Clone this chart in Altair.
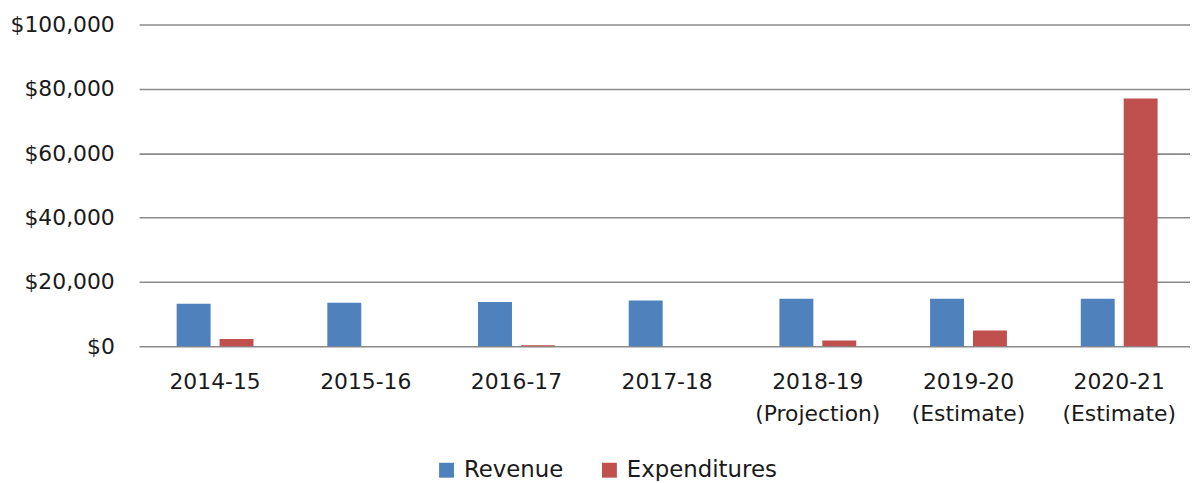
import altair as alt
import pandas as pd

categories = ["2014-15", "2015-16", "2016-17", "2017-18",
              "2018-19|(Projection)", "2019-20|(Estimate)", "2020-21|(Estimate)"]
series = ["Revenue", "Expenditures"]
revenue = [13200, 13500, 13750, 14200, 14800, 14800, 14800]
expenditures = [2300, 0, 300, 0, 1800, 4900, 77000]
colors = ["#4F81BD", "#C0504D"]
y_ticks = [0, 20000, 40000, 60000, 80000, 100000]

rows = []
for c, r, e in zip(categories, revenue, expenditures):
    rows.append({"Year": c, "Series": "Revenue", "Value": r})
    rows.append({"Year": c, "Series": "Expenditures", "Value": e})
df = pd.DataFrame(rows)

FONT = "DejaVu Sans"
TXT = "#1a1a1a"

chart = alt.Chart(df).mark_bar().encode(
    x=alt.X("Year:N", sort=categories, title=None,
            scale=alt.Scale(paddingInner=0.49, paddingOuter=0.232, align=0.537),
            axis=alt.Axis(labelAngle=0, labelExpr="split(datum.label, '|')",
                          labelFontSize=22, labelFont=FONT, labelColor=TXT,
                          labelPadding=25, labelLineHeight=33,
                          ticks=False, domain=False, grid=False)),
    xOffset=alt.XOffset("Series:N", sort=series,
                        scale=alt.Scale(paddingInner=0.209, paddingOuter=0)),
    y=alt.Y("Value:Q", title=None,
            scale=alt.Scale(domain=[0, 100000], nice=False),
            axis=alt.Axis(values=y_ticks, format="$,.0f",
                          labelFontSize=22, labelFont=FONT, labelColor=TXT,
                          labelPadding=25, ticks=False, domain=False,
                          grid=True, gridColor="#8a8a8a", gridWidth=1.6)),
    color=alt.Color("Series:N", sort=series,
                    scale=alt.Scale(domain=series, range=colors),
                    legend=alt.Legend(title=None, orient="none", direction="horizontal",
                                      legendX=298, legendY=437,
                                      symbolType="square", symbolSize=225,
                                      symbolStrokeWidth=0,
                                      labelFontSize=23, labelFont=FONT, labelColor=TXT,
                                      labelOffset=6, columnPadding=34, padding=0)),
).properties(
    width=1058, height=324,
    autosize=alt.AutoSizeParams(type="none"),
    padding={"left": 132, "top": 15, "right": 0, "bottom": 134},
).configure_view(stroke=None)

chart.save("out.html", embed_options={"renderer": "svg", "actions": False})
